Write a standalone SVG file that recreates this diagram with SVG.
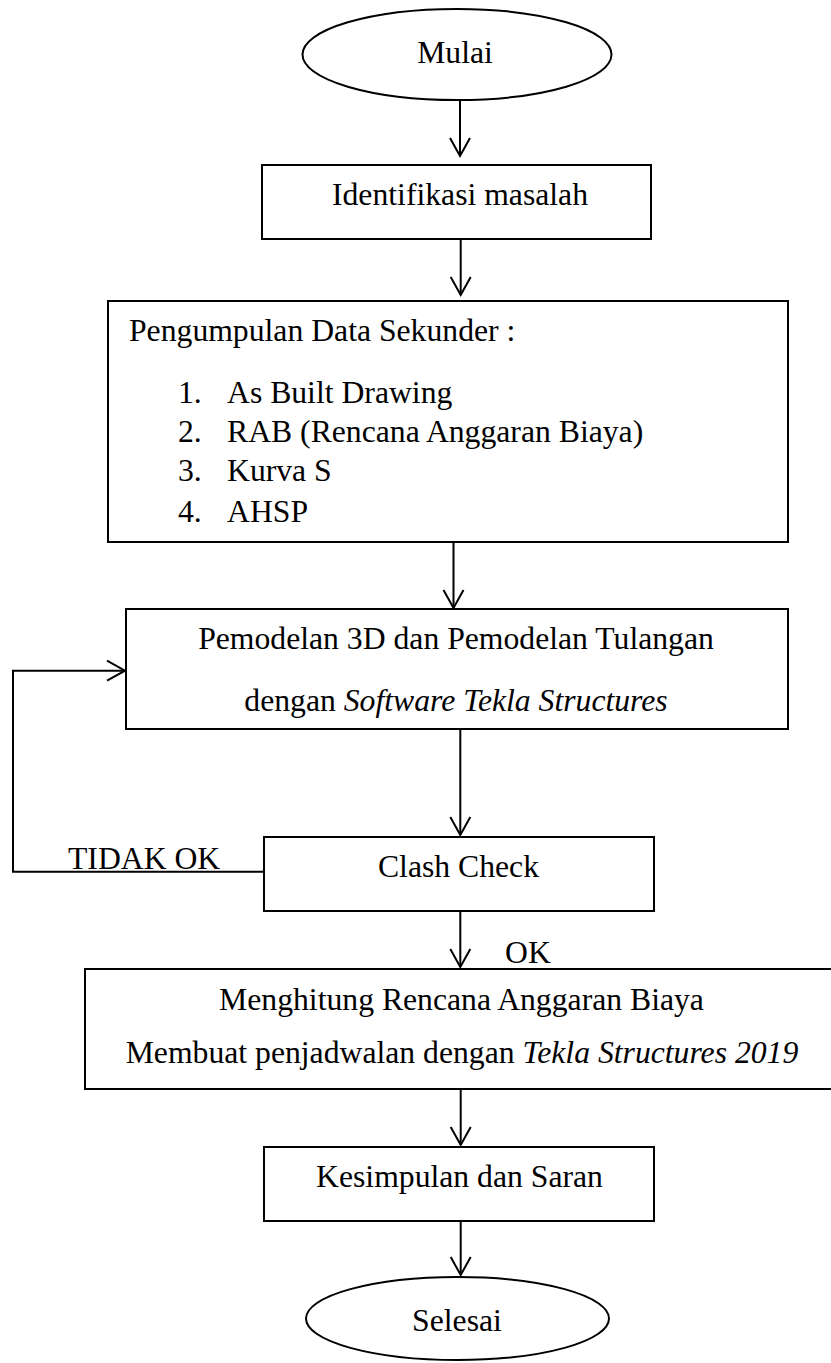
<svg xmlns="http://www.w3.org/2000/svg" width="831" height="1363" viewBox="0 0 831 1363">
<style>
.shape{fill:#fff;stroke:#000;stroke-width:2}
.t{font-family:"Liberation Serif","Times New Roman",serif;font-size:31.7px;fill:#000}
.c{text-anchor:middle}
.i{font-style:italic}
.conn{fill:none;stroke:#000;stroke-width:2}
</style>
<defs>
<marker id="arr" markerUnits="userSpaceOnUse" markerWidth="24" markerHeight="24" viewBox="-20 -12 24 24" refX="0" refY="0" orient="auto">
<path d="M-18,-10 L0,0 L-18,10" fill="none" stroke="#000" stroke-width="2"/>
</marker>
</defs>
<rect width="831" height="1363" fill="#fff"/>
<g id="connectors">
<line class="conn" x1="460" y1="100" x2="460" y2="156" marker-end="url(#arr)"/>
<line class="conn" x1="460.7" y1="239" x2="460.7" y2="295" marker-end="url(#arr)"/>
<line class="conn" x1="453.5" y1="542" x2="453.5" y2="608" marker-end="url(#arr)"/>
<line class="conn" x1="460.3" y1="729" x2="460.3" y2="835" marker-end="url(#arr)"/>
<line class="conn" x1="460.3" y1="911" x2="460.3" y2="967" marker-end="url(#arr)"/>
<line class="conn" x1="460.7" y1="1089" x2="460.7" y2="1145" marker-end="url(#arr)"/>
<line class="conn" x1="460.7" y1="1221" x2="460.7" y2="1275" marker-end="url(#arr)"/>
<path class="conn" d="M264,871.7 H13 V670.7 H125" marker-end="url(#arr)"/>
<text class="t" x="68" y="869">TIDAK OK</text>
<text class="t" x="505" y="963">OK</text>
</g>
<g id="mulai">
<ellipse class="shape" cx="457" cy="54.5" rx="154.5" ry="45.5"/>
<text class="t c" x="455" y="63">Mulai</text>
</g>
<g id="identifikasi">
<rect class="shape" x="262" y="165" width="389" height="74"/>
<text class="t c" x="460" y="205">Identifikasi masalah</text>
</g>
<g id="pengumpulan">
<rect class="shape" x="108" y="301" width="680" height="241"/>
<text class="t" x="129" y="341">Pengumpulan Data Sekunder :</text>
<text class="t" x="178" y="402.7">1.</text><text class="t" x="227" y="402.7">As Built Drawing</text>
<text class="t" x="178" y="441.7">2.</text><text class="t" x="227" y="441.7">RAB (Rencana Anggaran Biaya)</text>
<text class="t" x="178" y="480.7">3.</text><text class="t" x="227" y="480.7">Kurva S</text>
<text class="t" x="178" y="521.7">4.</text><text class="t" x="227" y="521.7">AHSP</text>
</g>
<g id="pemodelan">
<rect class="shape" x="126" y="609" width="662" height="120"/>
<text class="t c" x="456" y="649">Pemodelan 3D dan Pemodelan Tulangan</text>
<text class="t c" x="456" y="710.7">dengan <tspan class="i">Software Tekla Structures</tspan></text>
</g>
<g id="clash">
<rect class="shape" x="264" y="837" width="390" height="74"/>
<text class="t c" x="458.5" y="876.7">Clash Check</text>
</g>
<g id="menghitung">
<rect class="shape" x="85" y="969" width="755" height="120"/>
<text class="t c" x="461.5" y="1010">Menghitung Rencana Anggaran Biaya</text>
<text class="t c" x="462" y="1062.7">Membuat penjadwalan dengan <tspan class="i">Tekla Structures 2019</tspan></text>
</g>
<g id="kesimpulan">
<rect class="shape" x="264" y="1147" width="390" height="74"/>
<text class="t c" x="459.5" y="1187">Kesimpulan dan Saran</text>
</g>
<g id="selesai">
<ellipse class="shape" cx="457.5" cy="1318.5" rx="151.5" ry="41.5"/>
<text class="t c" x="457" y="1331">Selesai</text>
</g>
</svg>
